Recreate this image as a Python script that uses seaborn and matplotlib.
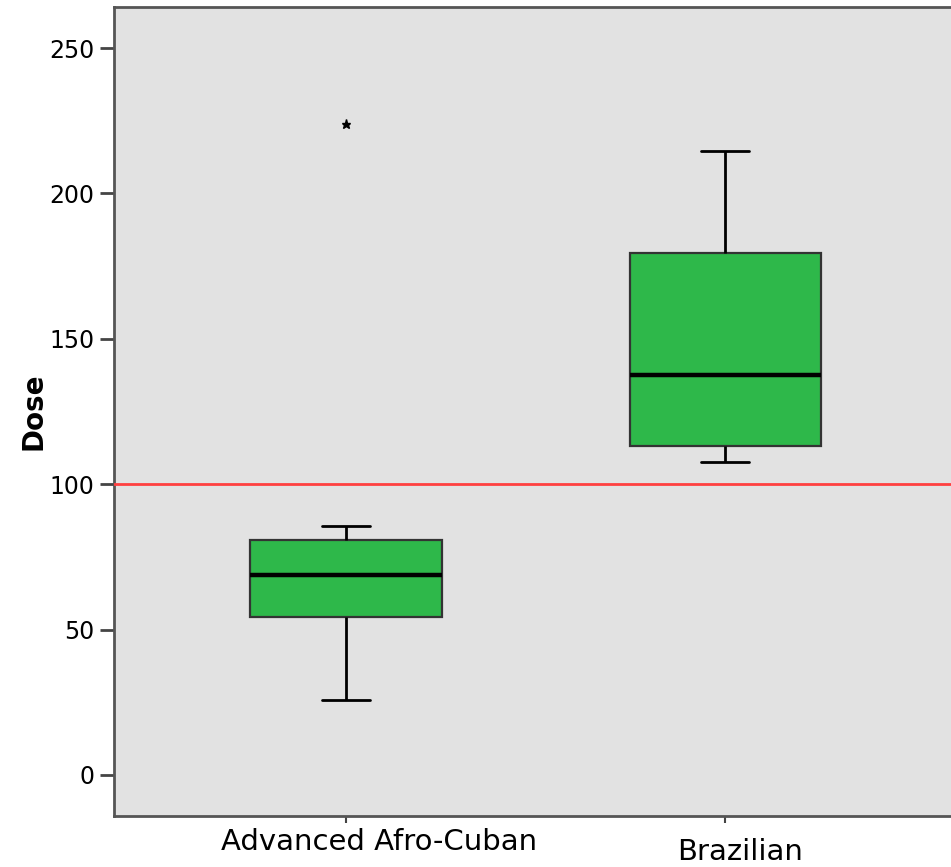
import matplotlib
matplotlib.use("Agg")
import matplotlib.pyplot as plt
import seaborn as sns
import pandas as pd

# Data
categories = ["Advanced Afro-Cuban", "Brazilian"]
whislo = [25.8, 107.6]
q1 = [54.3, 113.1]
median = [68.8, 137.6]
q3 = [80.8, 179.5]
whishi = [85.6, 214.6]
outliers = [[223.9], []]
reference_dose = 100
yticks = [0, 50, 100, 150, 200, 250]

# Build sample values whose quartiles reproduce the five-number summaries
rows = []
for i, cat in enumerate(categories):
    if outliers[i]:
        vals = [whislo[i], q1[i], q1[i], median[i], median[i], median[i], q3[i], whishi[i]] + outliers[i]
    else:
        vals = [whislo[i], q1[i], q1[i], median[i], q3[i], q3[i], whishi[i]]
    for v in vals:
        rows.append({"Group": cat, "Dose": v})
df = pd.DataFrame(rows)

sns.set_theme(style="white")
plt.rcParams["font.family"] = ["DejaVu Sans"]

fig = plt.figure(figsize=(9.51, 8.67), dpi=100)
ax = fig.add_axes([114 / 951, 51 / 867, 1 - 114 / 951, (816 - 7) / 867])
ax.set_facecolor("#E2E2E2")

sns.boxplot(
    data=df, x="Group", y="Dose", order=categories, ax=ax,
    color="#2EB84A", saturation=1, width=0.504, whis=1.5,
    linecolor="#333333", linewidth=1.6,
    medianprops={"color": "black", "linewidth": 3.2},
    whiskerprops={"color": "black", "linewidth": 2},
    capprops={"color": "black", "linewidth": 2},
    flierprops={"marker": "*", "markersize": 6.5, "markerfacecolor": "black",
                "markeredgecolor": "black"},
    capwidths=0.127,
)

ax.axhline(reference_dose, color="#FF4040", linewidth=2, zorder=3)

ax.set_ylim(-14.1, 264.1)
ax.set_xlim(-0.612, 1.596)
ax.set_yticks(yticks)
ax.set_yticklabels([str(t) for t in yticks], fontsize=17, color="black")
ax.set_xticks([0, 1])
ax.set_xticklabels(["", ""])
ax.set_xlabel("")
ax.set_ylabel("Dose", fontsize=20, fontweight="bold", labelpad=1, color="black")

# category labels, slightly offset to the right as in the reference
label_offsets = [(33, -12), (15, -22)]
for i, (cat, (dx, dy)) in enumerate(zip(categories, label_offsets)):
    ax.annotate(cat, xy=(i, 0), xycoords=("data", "axes fraction"),
                xytext=(dx, dy), textcoords="offset pixels",
                ha="center", va="top", fontsize=21, color="black",
                annotation_clip=False)

for side in ["left", "bottom", "top"]:
    ax.spines[side].set_visible(True)
    ax.spines[side].set_color("#555555")
    ax.spines[side].set_linewidth(2)
ax.spines["right"].set_visible(False)

ax.tick_params(axis="y", left=True, length=10, width=2, color="#444444", pad=4)
ax.tick_params(axis="x", bottom=True, length=5, width=1.5, color="#444444", pad=8)

fig.savefig("out.png", dpi=100, facecolor="white")
